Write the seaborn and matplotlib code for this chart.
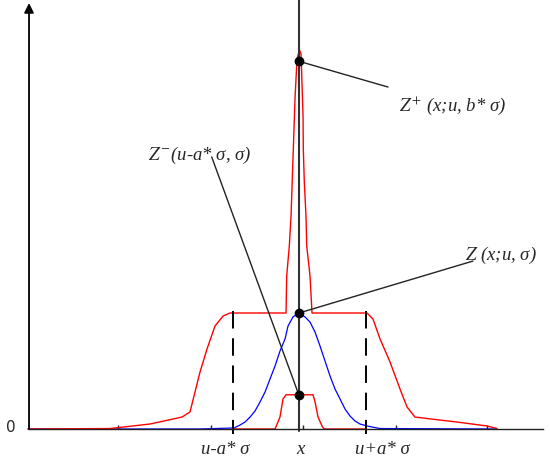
import matplotlib
matplotlib.use("Agg")
import matplotlib.pyplot as plt
import seaborn as sns

sns.set_style("white")
plt.rcParams["mathtext.fontset"] = "stix"
SERIF = ["Liberation Serif", "DejaVu Serif"]

# ---- data (x in units of a*sigma around u, y relative to the plateau height) ----
red_x = [-4.045, -2.821, -2.224, -1.746, -1.627, -1.478, -1.373, -1.254, -1.134, -1.030,
         -0.209, -0.194, -0.184, -0.145, -0.119, -0.085, -0.060, -0.030, 0.007, 0.030,
         0.060, 0.064, 0.079, 0.104, 0.115, 0.164, 0.194, 1.015, 1.104, 1.209, 1.358,
         1.507, 1.612, 1.731, 2.358, 2.806, 2.955]
red_y = [0.0, 0.004, 0.043, 0.103, 0.147, 0.491, 0.690, 0.888, 0.974, 1.0,
         1.0, 1.0, 1.319, 1.578, 1.836, 2.414, 2.845, 3.190, 3.267, 3.233,
         2.698, 2.414, 2.129, 1.836, 1.578, 1.319, 1.0, 1.0, 0.948, 0.776, 0.578,
         0.345, 0.190, 0.103, 0.060, 0.026, 0.004]

blue_x = [-4.045, -1.478, -0.970, -0.881, -0.806, -0.731, -0.657, -0.582, -0.507, -0.433,
          -0.358, -0.284, -0.209, -0.164, -0.090, 0.0, 0.090, 0.164, 0.239, 0.313, 0.388,
          0.463, 0.537, 0.612, 0.687, 0.761, 0.836, 0.910, 1.015, 1.209, 2.925]
blue_y = [0.0, 0.0, 0.009, 0.034, 0.060, 0.103, 0.155, 0.233, 0.319, 0.431,
          0.543, 0.672, 0.776, 0.888, 0.966, 1.0, 0.966, 0.922, 0.836, 0.716, 0.586,
          0.457, 0.345, 0.259, 0.172, 0.112, 0.069, 0.043, 0.026, 0.004, 0.0]

bump_x = [-0.985, -0.358, -0.284, -0.239, -0.194, 0.209, 0.239, 0.284, 0.343, 0.373, 1.0]
bump_y = [0.0, 0.0, 0.103, 0.259, 0.295, 0.295, 0.233, 0.103, 0.026, 0.0, 0.0]

dot_x = [0.0, 0.0, 0.0]
dot_y = [3.17, 1.0, 0.29]

dash_x = [-0.985, 1.0]
dash_top = 1.017
tick_x = [-2.701, -1.313, 0.060, 1.448, 2.806]

bottom_labels = ["u-a* σ", "x", "u+a* σ"]
bottom_label_x = [-1.10, 0.02, 1.25]

ann_texts = [r"$Z^{+}$ (x;u, b* σ)", r"$Z^{-}$(u-a* σ, σ)", r"$Z$ (x;u, σ)"]
ann_dot_y = [3.17, 0.29, 1.0]
ann_line_end = [(1.328, 2.948), (-1.303, 2.345), (2.597, 1.448)]
ann_text_pos = [(1.493, 2.793), (-2.254, 2.371), (2.478, 1.509)]

# ---- figure ----
fig = plt.figure(figsize=(5.5, 4.6), dpi=100)
ax = fig.add_axes([0, 0, 1, 1])
ax.set_xlim(-4.463, 3.746)
ax.set_ylim(-0.2586, 3.707)

sns.lineplot(x=blue_x, y=blue_y, color="#0000ff", lw=0.9, estimator=None, sort=False, ax=ax)
sns.lineplot(x=red_x, y=red_y, color="#ff0000", lw=1.0, estimator=None, sort=False, ax=ax)
sns.lineplot(x=bump_x, y=bump_y, color="#ff0000", lw=1.0, estimator=None, sort=False, ax=ax)

# axes
y_axis_x = -4.03
for s in ["top", "right", "left"]:
    ax.spines[s].set_visible(False)
ax.spines["bottom"].set_position(("data", 0))
ax.spines["bottom"].set_bounds(y_axis_x, 3.642)
ax.spines["bottom"].set_color("#222222")
ax.spines["bottom"].set_linewidth(1.0)
ax.set_xticks(tick_x)
ax.set_xticklabels([])
ax.set_yticks([])
ax.tick_params(axis="x", direction="in", length=3, width=1, color="#222222", bottom=True)
ax.annotate("", xy=(y_axis_x, 3.672), xytext=(y_axis_x, 0),
            arrowprops=dict(arrowstyle="-|>", color="black", lw=1.3, mutation_scale=14,
                            shrinkA=0, shrinkB=0))
ax.text(-4.30, 0.02, "0", fontsize=11, ha="center", va="center", family="DejaVu Sans")

# central vertical line
ax.plot([0, 0], [-0.02, 3.707], color="#333333", lw=1.5)

# dashed lines
for dx in dash_x:
    ax.plot([dx, dx], [dash_top, -0.043], color="black", lw=1.4, dashes=(9, 5))

# dots and leader lines
for (lx, ly), dy in zip(ann_line_end, ann_dot_y):
    ax.plot([0, lx], [dy, ly], color="#222222", lw=1.0)
ax.scatter(dot_x, dot_y, s=36, color="black", zorder=5)

for txt, (tx, ty) in zip(ann_texts, ann_text_pos):
    ax.text(tx, ty, txt, fontsize=13.5, family=SERIF, style="italic", ha="left", va="center")

for lab, lx in zip(bottom_labels, bottom_label_x):
    ax.text(lx, -0.165, lab, fontsize=13.5, family=SERIF, style="italic", ha="center", va="center")

fig.savefig("out.png", dpi=100)
